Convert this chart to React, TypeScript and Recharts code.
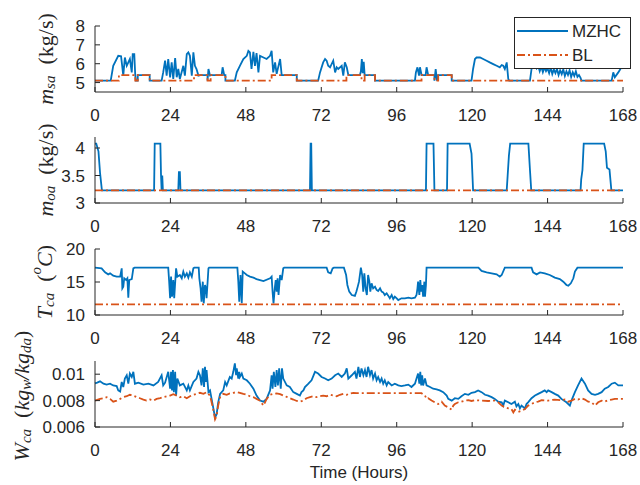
import React from 'react';
import { LineChart, Line, XAxis, YAxis } from 'recharts';

type Pair = [number, number];
type Part = { s: string; it?: boolean; sub?: boolean; sup?: boolean };

const hourTicks = [0, 24, 48, 72, 96, 120, 144, 168];
const seriesNames = ['MZHC', 'BL'];
const seriesColors = ['#0072BD', '#D95319'];

// supply air mass flow m_sa (kg/s)
const msaMZHC: Pair[] = [
  [0, 5.1], [5.0, 5.1], [5.8, 5.89], [7.4, 6.42], [8.3, 6.39], [9.0, 5.37], [9.5, 6.33], [10.1, 5.89],
  [10.6, 6.07], [11.1, 6.25], [11.7, 5.54], [12.0, 6.51], [12.5, 6.51], [12.8, 5.4], [13.0, 5.1],
  [13.6, 5.1], [13.6, 5.4], [17.4, 5.4], [17.4, 5.1], [21.2, 5.1], [21.7, 5.54], [22.3, 6.16],
  [22.8, 5.37], [23.3, 6.25], [23.9, 5.28], [24.4, 6.07], [24.9, 5.19], [25.5, 6.3], [26.0, 5.28],
  [26.5, 5.72], [27.0, 5.19], [28.1, 5.89], [28.6, 5.37], [29.2, 6.51], [29.7, 6.6], [30.2, 6.42],
  [30.8, 5.37], [31.3, 6.6], [31.8, 5.89], [32.3, 5.72], [32.9, 5.37], [33.5, 5.4], [35.8, 5.4],
  [35.8, 5.1], [36.1, 5.72], [36.6, 5.37], [37.0, 5.4], [40.3, 5.4], [40.6, 5.81], [41.1, 5.4],
  [41.5, 5.4], [41.5, 5.1], [44.5, 5.1], [45.1, 5.54], [46.1, 5.89], [47.2, 6.25], [48.3, 6.42],
  [48.8, 6.68], [49.3, 6.6], [49.8, 5.72], [50.4, 6.63], [50.9, 5.89], [51.4, 6.56], [52.0, 5.54],
  [52.5, 6.42], [53.6, 6.33], [54.6, 6.25], [55.7, 6.42], [56.2, 6.68], [56.7, 5.54], [57.3, 6.07],
  [57.8, 5.46], [58.9, 6.25], [59.4, 5.4], [64.2, 5.4], [64.2, 5.1], [71.0, 5.1], [71.6, 5.54],
  [72.6, 6.07], [73.2, 6.25], [73.7, 6.16], [74.2, 5.89], [74.8, 5.81], [75.8, 6.16], [76.4, 5.54],
  [76.9, 5.81], [77.4, 5.72], [78.5, 5.89], [79.0, 5.37], [79.5, 6.07], [80.1, 5.81], [80.6, 5.4],
  [84.3, 5.4], [84.6, 5.6], [84.9, 6.25], [85.2, 5.5], [85.5, 6.1], [85.8, 5.4], [89.1, 5.4],
  [89.1, 5.1], [101.8, 5.1], [102.1, 5.54], [102.6, 5.81], [103.1, 5.37], [103.4, 5.81], [103.9, 5.4],
  [105.2, 5.4], [105.5, 5.81], [106.0, 5.4], [108.0, 5.4], [108.0, 5.1], [108.4, 5.72], [108.8, 5.1],
  [109.2, 5.4], [113.5, 5.4], [113.5, 5.1], [119.8, 5.1], [120.3, 5.72], [120.9, 6.25], [121.4, 6.33],
  [122.5, 6.33], [123.5, 6.25], [124.6, 6.16], [125.6, 6.07], [126.7, 5.98], [127.8, 5.89],
  [128.8, 5.81], [129.4, 5.93], [129.9, 5.89], [130.4, 5.72], [131.0, 6.07], [131.5, 5.19],
  [131.8, 5.1], [138.4, 5.1], [138.9, 5.72], [139.4, 5.98], [140.0, 5.89], [140.5, 5.75], [141, 5.9],
  [141.5, 5.6], [142, 5.85], [142.5, 5.55], [143, 5.8], [143.5, 5.6], [144, 5.75], [144.5, 5.5],
  [145, 5.8], [145.5, 5.45], [146, 5.7], [146.5, 5.5], [147, 5.72], [147.5, 5.4], [148, 5.65],
  [148.5, 5.45], [149, 5.7], [149.5, 5.35], [150, 5.6], [150.5, 5.4], [151, 5.65], [151.5, 5.3],
  [152, 5.55], [152.5, 5.35], [153, 5.6], [153.5, 5.3], [154, 5.4], [154.5, 5.25], [154.8, 5.1],
  [164.4, 5.1], [164.9, 5.54], [165.4, 5.28], [166.5, 5.54], [167.5, 5.81], [168, 5.75],
];
const msaBL: Pair[] = [
  [0, 5.1], [7.6, 5.1], [7.6, 5.4], [12.8, 5.4], [12.8, 5.1], [13.6, 5.1], [13.6, 5.4], [17.4, 5.4],
  [17.4, 5.1], [31.5, 5.1], [31.5, 5.4], [35.8, 5.4], [35.8, 5.1], [36.8, 5.1], [36.8, 5.4],
  [41.5, 5.4], [41.5, 5.1], [56.2, 5.1], [56.2, 5.4], [64.2, 5.4], [64.2, 5.1], [80, 5.1], [80, 5.4],
  [84.8, 5.4], [84.8, 5.1], [85.8, 5.1], [85.8, 5.4], [89.1, 5.4], [89.1, 5.1], [103.9, 5.1],
  [103.9, 5.4], [108, 5.4], [108, 5.1], [109.2, 5.1], [109.2, 5.4], [113.5, 5.4], [113.5, 5.1],
  [168, 5.1],
];

// outdoor air mass flow m_oa (kg/s)
const moaMZHC: Pair[] = [
  [0, 4.08], [0.4, 4.08], [1.1, 3.94], [1.6, 3.55], [2.2, 3.23], [18.8, 3.23], [19.0, 4.08],
  [20.8, 4.08], [21.0, 3.52], [21.2, 3.23], [21.4, 3.5], [21.6, 3.23], [26.5, 3.23], [26.7, 3.56],
  [27.0, 3.56], [27.2, 3.23], [68.4, 3.23], [68.6, 4.08], [68.8, 4.08], [69.0, 3.23], [105.3, 3.23],
  [105.5, 4.08], [107.7, 4.08], [108.0, 3.23], [112.0, 3.23], [112.2, 4.08], [119.2, 4.08],
  [119.8, 3.9], [120.3, 3.23], [131.0, 3.23], [131.3, 3.5], [131.7, 3.86], [132.1, 4.08],
  [137.9, 4.08], [138.4, 3.6], [138.8, 3.23], [154.5, 3.23], [154.7, 3.43], [155.1, 3.6],
  [155.5, 4.08], [162.0, 4.08], [162.5, 3.94], [162.9, 3.64], [163.7, 3.61], [164.3, 3.23],
  [168, 3.23],
];
const moaBL: Pair[] = [[0, 3.23], [168, 3.23]];

// cooling coil air temperature T_ca (oC)
const tcaMZHC: Pair[] = [
  [0, 17.17], [2.1, 17.07], [3.2, 16.46], [4.2, 16.16], [4.8, 16.31], [5.8, 15.96], [6.9, 15.81],
  [8.0, 15.81], [8.5, 17.07], [8.7, 14.04], [9.0, 14.29], [9.3, 15.56], [9.9, 15.3], [10.3, 15.56],
  [10.6, 12.63], [10.9, 15.3], [11.7, 15.45], [12.2, 17.07], [12.6, 17.17], [23.3, 17.17],
  [23.6, 15.05], [23.9, 12.53], [24.2, 15.81], [24.5, 12.78], [24.9, 15.3], [25.2, 12.53],
  [25.6, 15.56], [25.8, 17.07], [26.2, 15.81], [27.0, 16.06], [27.6, 15.56], [28.1, 16.57],
  [28.6, 15.81], [29.2, 16.31], [29.7, 15.66], [30.2, 16.46], [30.8, 15.81], [31.3, 17.07],
  [31.6, 17.17], [33.0, 17.17], [33.2, 15.56], [33.6, 14.04], [33.9, 12.02], [34.3, 15.05],
  [34.6, 11.77], [35.0, 14.55], [35.3, 14.04], [35.5, 12.53], [36.1, 17.07], [36.3, 17.17],
  [45.3, 17.17], [45.6, 15.05], [45.9, 12.02], [46.3, 16.06], [46.7, 11.77], [47.0, 16.57],
  [47.7, 16.31], [48.3, 16.06], [49.3, 15.81], [50.4, 15.66], [51.4, 15.45], [52.5, 15.3],
  [53.6, 15.15], [55.7, 15.56], [56.2, 15.81], [56.5, 13.54], [56.8, 11.77], [57.2, 14.04],
  [57.5, 15.3], [57.8, 13.54], [58.1, 15.56], [58.4, 13.03], [58.9, 16.06], [59.4, 15.3],
  [59.9, 17.07], [60.2, 17.17], [73.7, 17.17], [74.2, 16.46], [75.0, 16.31], [75.6, 17.07],
  [76.0, 17.17], [79.2, 17.17], [79.9, 16.06], [80.3, 14.55], [80.9, 13.54], [81.7, 13.03],
  [82.7, 12.9], [83.2, 13.6], [83.6, 14.3], [84.0, 15.05], [84.6, 17.17], [85.0, 16.06],
  [85.35, 13.54], [85.7, 16.31], [86.1, 14.04], [86.5, 13.03], [86.9, 16.06], [87.3, 15.05],
  [87.6, 13.54], [88.0, 14.8], [88.5, 14.04], [89.1, 14.29], [89.6, 13.79], [90.1, 13.64],
  [90.7, 14.04], [91.2, 13.54], [91.7, 13.43], [92.2, 13.03], [92.8, 13.28], [93.3, 12.93],
  [93.8, 12.53], [94.4, 13.03], [94.9, 12.42], [95.4, 12.78], [96.0, 12.53], [96.5, 12.27],
  [97.5, 12.53], [98.6, 12.53], [99.7, 12.63], [100.7, 12.53], [101.8, 12.63], [102.3, 13.03],
  [102.6, 14.04], [102.8, 15.05], [103.2, 13.03], [103.5, 15.3], [103.8, 13.54], [104.1, 14.55],
  [104.4, 12.78], [104.8, 15.05], [105.0, 12.78], [105.3, 14.55], [105.5, 17.17], [122.0, 17.17],
  [123.0, 16.67], [124.6, 16.46], [126.2, 16.31], [127.8, 16.16], [128.8, 15.81], [129.4, 16.06],
  [130.4, 17.17], [138.9, 17.17], [139.4, 16.46], [140.5, 16.16], [141.6, 16.46], [143.1, 16.31],
  [144.7, 16.06], [146.3, 15.66], [147.9, 15.45], [149.0, 15.05], [150.0, 14.55], [150.6, 14.44],
  [151.4, 14.8], [152.2, 15.56], [152.7, 16.57], [153.5, 17.17], [168, 17.17],
];
const tcaBL: Pair[] = [[0, 11.6], [168, 11.6]];

// cooling coil air humidity W_ca (kg_w/kg_da)
const wcaMZHC: Pair[] = [
  [0, 0.0093], [0.7, 0.00936], [1.6, 0.00946], [2.7, 0.00928], [3.7, 0.00921], [4.8, 0.00928],
  [5.8, 0.00915], [6.9, 0.0091], [7.4, 0.00877], [8.0, 0.00869], [8.5, 0.00941], [9.0, 0.00903],
  [9.5, 0.00967], [10.1, 0.00992], [10.6, 0.00928], [11.1, 0.01005], [11.7, 0.00979], [12.2, 0.01018],
  [12.7, 0.00928], [13.8, 0.00936], [15.4, 0.00921], [17.0, 0.00928], [18.6, 0.00915], [20.1, 0.00941],
  [21.2, 0.00992], [21.7, 0.00915], [22.3, 0.00936], [23.3, 0.01018], [23.9, 0.0089], [24.2, 0.01018],
  [24.5, 0.00877], [24.8, 0.01031], [25.1, 0.00864], [25.5, 0.01018], [25.8, 0.00838], [26.2, 0.00967],
  [27.0, 0.00915], [28.1, 0.00928], [29.2, 0.00877], [29.7, 0.00915], [30.2, 0.00877], [31.3, 0.00941],
  [32.3, 0.00967], [32.9, 0.01018], [33.4, 0.00992], [33.9, 0.00915], [34.3, 0.01044], [34.7, 0.00903],
  [35.0, 0.01056], [35.3, 0.00941], [35.5, 0.01031], [36.1, 0.00864], [36.6, 0.00877], [37.1, 0.00813],
  [37.6, 0.00749], [38.2, 0.00672], [38.7, 0.00697], [39.2, 0.00787], [39.8, 0.00851], [40.8, 0.00877],
  [41.4, 0.00941], [41.9, 0.00915], [42.9, 0.00979], [43.5, 0.00967], [44.0, 0.01018], [44.5, 0.01082],
  [44.9, 0.00992], [45.1, 0.01044], [45.6, 0.00967], [45.9, 0.01018], [46.1, 0.00979], [46.7, 0.01005],
  [47.2, 0.00967], [48.3, 0.00954], [49.3, 0.00928], [50.4, 0.0089], [51.4, 0.00838], [52.5, 0.008],
  [53.6, 0.00792], [54.6, 0.00813], [55.7, 0.00877], [56.2, 0.00992], [56.5, 0.0089], [56.9, 0.01018],
  [57.4, 0.00903], [57.8, 0.01031], [58.2, 0.00915], [58.6, 0.01044], [59.1, 0.0089], [59.5, 0.01044],
  [59.9, 0.00967], [61.0, 0.00915], [62.0, 0.00903], [63.1, 0.00864], [64.2, 0.00851], [65.2, 0.00838],
  [65.7, 0.00864], [66.3, 0.00877], [66.8, 0.00903], [67.9, 0.00928], [68.9, 0.00954], [70.0, 0.01018],
  [71.0, 0.01005], [72.1, 0.00979], [73.2, 0.00967], [74.2, 0.00954], [75.3, 0.00967], [76.4, 0.00992],
  [77.4, 0.01005], [78.5, 0.00979], [79.5, 0.01005], [80.1, 0.01044], [80.6, 0.00967], [81.7, 0.00992],
  [82.7, 0.01018], [83.2, 0.00967], [83.8, 0.01056], [84.3, 0.00979], [84.8, 0.01044], [85.4, 0.00992],
  [85.9, 0.01031], [86.4, 0.00979], [86.9, 0.01056], [87.5, 0.00992], [88.0, 0.01031], [88.5, 0.00967],
  [89.1, 0.01005], [89.6, 0.00954], [90.1, 0.00979], [90.7, 0.00941], [91.2, 0.00967], [91.7, 0.00928],
  [92.2, 0.00954], [92.8, 0.00915], [93.3, 0.00941], [94.4, 0.00915], [95.4, 0.00928], [96.5, 0.00915],
  [97.5, 0.0091], [98.6, 0.00915], [99.7, 0.00921], [100.7, 0.00903], [101.8, 0.00928], [102.3, 0.00967],
  [102.8, 0.01005], [103.2, 0.00928], [103.5, 0.01018], [103.8, 0.00915], [104.1, 0.00992],
  [104.4, 0.00915], [105.0, 0.00967], [105.5, 0.00915], [106.6, 0.00903], [107.6, 0.0089],
  [108.7, 0.00885], [109.7, 0.00877], [110.8, 0.00864], [111.9, 0.00838], [112.4, 0.00813],
  [113.5, 0.008], [114.5, 0.00818], [115.6, 0.00813], [116.6, 0.00833], [117.7, 0.00851],
  [118.8, 0.00844], [119.8, 0.00859], [120.9, 0.00864], [121.9, 0.00877], [123.0, 0.00864],
  [124.1, 0.00844], [125.1, 0.00838], [126.2, 0.00826], [127.2, 0.00813], [128.3, 0.00792],
  [129.4, 0.00787], [129.9, 0.00762], [130.4, 0.008], [131.5, 0.00787], [132.5, 0.00774],
  [133.6, 0.00792], [134.1, 0.00756], [134.7, 0.00774], [135.2, 0.00741], [135.7, 0.00762],
  [136.8, 0.00741], [137.3, 0.00774], [137.8, 0.00787], [138.9, 0.00818], [140.0, 0.00838],
  [141.0, 0.00851], [142.1, 0.00864], [143.1, 0.00877], [143.7, 0.00864], [144.2, 0.00877],
  [145.3, 0.00864], [146.3, 0.00851], [147.4, 0.00838], [148.4, 0.00813], [150.0, 0.00787],
  [151.1, 0.00762], [151.6, 0.008], [152.7, 0.00864], [153.7, 0.00915], [154.8, 0.00967],
  [155.9, 0.00928], [156.9, 0.00877], [158.0, 0.00851], [159.1, 0.00844], [160.1, 0.00851],
  [161.2, 0.00864], [162.2, 0.0089], [163.3, 0.00903], [164.4, 0.00928], [165.4, 0.00936],
  [166.5, 0.00915], [167.5, 0.00915], [168, 0.00915],
];
const wcaBL: Pair[] = [
  [0, 0.008], [1.6, 0.00813], [2.7, 0.00818], [3.7, 0.00826], [4.8, 0.00813], [5.8, 0.00792],
  [6.9, 0.008], [8.0, 0.00813], [9.0, 0.00826], [10.1, 0.00833], [11.1, 0.00844], [12.2, 0.00838],
  [13.3, 0.00826], [14.3, 0.00818], [15.4, 0.00808], [16.4, 0.008], [17.5, 0.00808], [18.6, 0.008],
  [19.6, 0.00813], [20.7, 0.00818], [21.7, 0.00826], [22.8, 0.00833], [23.9, 0.00838], [24.9, 0.00849],
  [26.0, 0.00838], [27.0, 0.00826], [28.1, 0.00833], [29.2, 0.00818], [30.2, 0.00833], [31.3, 0.00844],
  [32.3, 0.00851], [33.4, 0.00859], [34.5, 0.00851], [35.5, 0.00864], [36.6, 0.00838], [37.1, 0.00787],
  [37.6, 0.00736], [38.2, 0.00659], [38.7, 0.00685], [39.2, 0.00762], [39.8, 0.00826], [40.8, 0.00851],
  [41.9, 0.00844], [42.9, 0.00854], [44.0, 0.00859], [45.1, 0.00864], [46.1, 0.00859], [47.2, 0.00851],
  [48.3, 0.00844], [49.3, 0.00833], [50.4, 0.00826], [51.4, 0.00813], [52.5, 0.008], [53.6, 0.00762],
  [54.1, 0.00787], [54.6, 0.00813], [55.7, 0.00844], [56.7, 0.00851], [57.8, 0.00854], [58.9, 0.00849],
  [59.9, 0.00838], [61.0, 0.00828], [62.0, 0.00818], [63.1, 0.00808], [64.2, 0.00797], [65.2, 0.00792],
  [66.3, 0.008], [67.3, 0.00818], [68.4, 0.00826], [69.5, 0.00833], [70.5, 0.00826], [71.6, 0.00833],
  [72.6, 0.00838], [73.7, 0.00833], [74.8, 0.00844], [75.8, 0.00838], [76.9, 0.00833], [77.9, 0.00844],
  [79.0, 0.00851], [80.1, 0.00844], [81.1, 0.00854], [82.2, 0.00859], [83.2, 0.00856], [90, 0.00856],
  [97, 0.00856], [103.9, 0.00856], [105.0, 0.00838], [105.5, 0.00813], [106.0, 0.00818], [107.1, 0.008],
  [108.1, 0.00787], [109.2, 0.00774], [110.3, 0.00792], [111.3, 0.00762], [112.4, 0.00749],
  [113.5, 0.00731], [114.0, 0.00762], [114.5, 0.00774], [115.6, 0.00787], [116.6, 0.00792],
  [117.7, 0.008], [118.8, 0.00803], [119.8, 0.00797], [120.9, 0.00803], [123.0, 0.008], [125.1, 0.00797],
  [127.2, 0.008], [128.3, 0.00787], [129.4, 0.00762], [130.4, 0.00749], [131.5, 0.00741],
  [132.5, 0.00736], [133.1, 0.0071], [133.6, 0.00731], [134.7, 0.00715], [135.7, 0.00723],
  [136.8, 0.00736], [137.8, 0.00762], [138.9, 0.00774], [140.0, 0.00787], [141.0, 0.00792],
  [142.1, 0.00803], [144.2, 0.008], [146.3, 0.00808], [148.4, 0.00803], [149.5, 0.00808],
  [150.6, 0.00792], [151.6, 0.008], [152.7, 0.00813], [153.7, 0.00808], [154.8, 0.00818],
  [155.9, 0.00808], [156.9, 0.00792], [158.0, 0.00787], [159.1, 0.00762], [160.1, 0.00787],
  [161.2, 0.008], [162.2, 0.00792], [163.3, 0.00803], [164.4, 0.00808], [165.4, 0.00813],
  [167.5, 0.00813], [168, 0.00813],
];

const AX = '#262626';
const SANS = '"Liberation Sans", Arial, Helvetica, sans-serif';
const SERIF = '"Liberation Serif", "Times New Roman", serif';
const PLOT_H = 66;
const DASHDOT = '8 3 2 3';

const toRows = (pairs: Pair[]) => pairs.map(([t, v]) => ({ t, v }));

// rotated, LaTeX-looking axis title
const AxisTitle = ({ parts, cx, cy }: { parts: Part[]; cx: number; cy: number }) => {
  let shift = 0;
  return (
    <text
      x={cx}
      y={cy}
      transform={`rotate(-90 ${cx} ${cy})`}
      textAnchor="middle"
      dominantBaseline="central"
      fill={AX}
      fontFamily={SERIF}
      fontSize={22}
    >
      {parts.map((p, i) => {
        const target = p.sub ? 5 : p.sup ? -8 : 0;
        const dy = target - shift;
        shift = target;
        return (
          <tspan key={i} dy={dy} fontStyle={p.it ? 'italic' : 'normal'} fontSize={p.sub || p.sup ? 15 : 22}>
            {p.s}
          </tspan>
        );
      })}
    </text>
  );
};

interface PanelProps {
  top: number;
  marginTop: number;
  xAxisHeight: number;
  domain: [number, number];
  yTicks: number[];
  mzhc: Pair[];
  bl: Pair[];
  xLabel?: string;
}

const Panel = ({ top, marginTop, xAxisHeight, domain, yTicks, mzhc, bl, xLabel }: PanelProps) => {
  const height = marginTop + PLOT_H + xAxisHeight;
  return (
    <div style={{ position: 'absolute', left: 0, top }}>
      <LineChart width={640} height={height} margin={{ top: marginTop, right: 17, bottom: 0, left: 0 }}>
        <XAxis
          xAxisId="b"
          dataKey="t"
          type="number"
          domain={[0, 168]}
          ticks={hourTicks}
          interval={0}
          height={xAxisHeight}
          tickSize={-5}
          tickMargin={22}
          stroke={AX}
          tick={{ fill: AX, fontSize: 17, fontFamily: SANS }}
          label={
            xLabel
              ? { value: xLabel, position: 'insideBottom', offset: 7, fill: AX, fontSize: 17, fontFamily: SANS }
              : undefined
          }
        />
        <XAxis
          xAxisId="t"
          orientation="top"
          type="number"
          domain={[0, 168]}
          ticks={hourTicks}
          interval={0}
          height={0}
          tickSize={-5}
          tick={false}
          stroke={AX}
        />
        <YAxis
          yAxisId="l"
          type="number"
          domain={domain}
          ticks={yTicks}
          interval={0}
          width={95}
          tickSize={-5}
          tickMargin={15}
          stroke={AX}
          tick={{ fill: AX, fontSize: 17, fontFamily: SANS }}
        />
        <YAxis
          yAxisId="r"
          orientation="right"
          type="number"
          domain={domain}
          ticks={yTicks}
          interval={0}
          width={0}
          tickSize={-5}
          tick={false}
          stroke={AX}
        />
        <Line
          xAxisId="b"
          yAxisId="l"
          data={toRows(mzhc)}
          dataKey="v"
          name={seriesNames[0]}
          type="linear"
          stroke={seriesColors[0]}
          strokeWidth={1.8}
          dot={false}
          isAnimationActive={false}
        />
        <Line
          xAxisId="b"
          yAxisId="l"
          data={toRows(bl)}
          dataKey="v"
          name={seriesNames[1]}
          type="linear"
          stroke={seriesColors[1]}
          strokeWidth={1.8}
          strokeDasharray={DASHDOT}
          dot={false}
          isAnimationActive={false}
        />
      </LineChart>
    </div>
  );
};

const LegendBox = () => (
  <svg width={118} height={53} style={{ position: 'absolute', left: 514, top: 17 }}>
    <rect x={0.5} y={0.5} width={116} height={51} fill="#fff" stroke={AX} strokeWidth={1} />
    {seriesNames.map((name, i) => {
      const y = 14 + i * 24;
      return (
        <g key={name}>
          <line
            x1={3}
            x2={54}
            y1={y}
            y2={y}
            stroke={seriesColors[i]}
            strokeWidth={1.8}
            strokeDasharray={i === 1 ? DASHDOT : undefined}
          />
          <text x={58} y={y} dominantBaseline="central" fill={AX} fontFamily={SANS} fontSize={17}>
            {name}
          </text>
        </g>
      );
    })}
  </svg>
);

const AxisTitles = () => (
  <svg width={100} height={485} style={{ position: 'absolute', left: 0, top: 0, pointerEvents: 'none' }}>
    <AxisTitle cx={45} cy={59} parts={[{ s: 'm', it: true }, { s: 'sa', it: true, sub: true }, { s: '\u2002(kg/s)' }]} />
    <AxisTitle cx={45} cy={170} parts={[{ s: 'm', it: true }, { s: 'oa', it: true, sub: true }, { s: '\u2002(kg/s)' }]} />
    <AxisTitle
      cx={44}
      cy={282}
      parts={[
        { s: 'T', it: true },
        { s: 'ca', it: true, sub: true },
        { s: '\u2002(' },
        { s: 'o', it: true, sup: true },
        { s: 'C', it: true },
        { s: ')' },
      ]}
    />
    <AxisTitle
      cx={21}
      cy={396}
      parts={[
        { s: 'W', it: true },
        { s: 'ca', it: true, sub: true },
        { s: '\u2002(' },
        { s: 'kg', it: true },
        { s: 'w', it: true, sub: true },
        { s: '/kg', it: true },
        { s: 'da', it: true, sub: true },
        { s: ')' },
      ]}
    />
  </svg>
);

export default function App() {
  return (
    <div style={{ position: 'absolute', left: 0, top: 0, width: 640, height: 485, background: '#fff' }}>
      <Panel top={0} marginTop={26} xAxisHeight={32} domain={[4.5, 8]} yTicks={[5, 6, 7, 8]} mzhc={msaMZHC} bl={msaBL} />
      <Panel top={125} marginTop={12} xAxisHeight={32} domain={[3, 4.2]} yTicks={[3, 3.5, 4]} mzhc={moaMZHC} bl={moaBL} />
      <Panel top={237} marginTop={12} xAxisHeight={32} domain={[10, 20]} yTicks={[10, 15, 20]} mzhc={tcaMZHC} bl={tcaBL} />
      <Panel
        top={349}
        marginTop={12}
        xAxisHeight={58}
        domain={[0.006, 0.011]}
        yTicks={[0.006, 0.008, 0.01]}
        mzhc={wcaMZHC}
        bl={wcaBL}
        xLabel="Time (Hours)"
      />
      <AxisTitles />
      <LegendBox />
    </div>
  );
}
